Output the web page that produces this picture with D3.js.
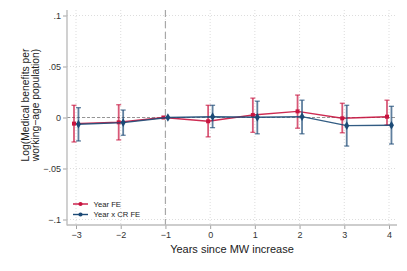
<!DOCTYPE html>
<html><head><meta charset="utf-8">
<script src="https://cdn.jsdelivr.net/npm/d3@7"></script>
<style>body{margin:0;background:#fff}svg{display:block;font-family:"Liberation Sans",Arial,sans-serif}</style>
</head><body><svg id="c" width="407" height="271"></svg>
<script>
const years = [-3,-2,-1,0,1,2,3,4];
const yearFE      = [-0.006,-0.0047,0,-0.0037,0.0024,0.006,-0.0008,0.0008];
const yearFE_lo   = [-0.024,-0.022,null,-0.019,-0.0145,-0.0105,-0.015,-0.0073];
const yearFE_hi   = [0.012,0.0125,null,0.012,0.019,0.022,0.014,0.017];
const yearCR      = [-0.0066,-0.005,0,0.0008,0.0002,0.0008,-0.008,-0.0076];
const yearCR_lo   = [-0.023,-0.0174,null,-0.010,-0.016,-0.016,-0.028,-0.026];
const yearCR_hi   = [0.0096,0.0073,null,0.012,0.016,0.017,0.012,0.011];
const yTicks = [-0.1,-0.05,0,0.05,0.1];
const yTickLabels = ["\u2212.1","\u2212.05","0",".05",".1"];
const xTicks = years;
const seriesNames = ["Year FE","Year x CR FE"];
const colors = ["#c8143f","#1c4a76"];

const svg = d3.select("#c");
const L=67, R=397, T=10, B=225;
const x = d3.scaleLinear().domain([-3,4]).range([76,389]);
const y = d3.scaleLinear().domain([-0.1,0.1]).range([219.5,15.5]);

// gridlines
const g = svg.append("g");
g.selectAll(".hg").data(yTicks).join("line")
  .attr("x1",L).attr("x2",R).attr("y1",d=>y(d)).attr("y2",d=>y(d))
  .attr("stroke","#d4d4d4").attr("stroke-width",0.8).attr("stroke-dasharray","1,2");
g.selectAll(".vg").data(xTicks).join("line")
  .attr("y1",T).attr("y2",B).attr("x1",d=>x(d)).attr("x2",d=>x(d))
  .attr("stroke","#d4d4d4").attr("stroke-width",0.8).attr("stroke-dasharray","1,2");

// reference lines
svg.append("line").attr("x1",L).attr("x2",R).attr("y1",y(0)).attr("y2",y(0))
  .attr("stroke","#8a8a8a").attr("stroke-width",0.9).attr("stroke-dasharray","3,2");
svg.append("line").attr("x1",x(-1)).attr("x2",x(-1)).attr("y1",T).attr("y2",B)
  .attr("stroke","#a8a8a8").attr("stroke-width",1.2).attr("stroke-dasharray","7,4");

// axes
const yAxis = d3.axisLeft(y).tickValues(yTicks).tickFormat((d,i)=>yTickLabels[i]).tickSize(4).tickPadding(2);
const ya = svg.append("g").attr("transform",`translate(${L},0)`).call(yAxis);
const xAxis = d3.axisBottom(x).tickValues(xTicks).tickFormat(d=>d<0?"\u2212"+(-d):String(d)).tickSize(4).tickPadding(3);
const xa = svg.append("g").attr("transform",`translate(0,${B})`).call(xAxis);
[ya,xa].forEach(a=>{
  a.select(".domain").remove();
  a.selectAll(".tick line").attr("stroke","#999").attr("stroke-width",0.9);
  a.selectAll("text").attr("fill","#333").style("font-size","9px").style("font-family","Liberation Sans, Arial, sans-serif");
});
svg.append("line").attr("x1",L).attr("x2",L).attr("y1",T).attr("y2",B+0.5).attr("stroke","#bdbdbd").attr("stroke-width",1.4);
svg.append("line").attr("x1",L).attr("x2",R).attr("y1",B).attr("y2",B).attr("stroke","#bdbdbd").attr("stroke-width",1.4);

// titles
svg.append("text").attr("x",(L+R)/2).attr("y",253).attr("text-anchor","middle")
  .style("font-size","11px").attr("fill","#222").text("Years since MW increase");
const yt = svg.append("text").attr("transform","translate(0,105) rotate(-90)")
  .attr("text-anchor","middle").style("font-size","10.3px").attr("fill","#222");
yt.append("tspan").attr("x",0).attr("y",29).text("Log(Medical benefits per");
yt.append("tspan").attr("x",0).attr("y",39).text("working\u2212age population)");

// series
const series = [
  {name:seriesNames[0], v:yearFE, lo:yearFE_lo, hi:yearFE_hi, off:-0.045, color:colors[0], sym:d3.symbolSquare, size:16},
  {name:seriesNames[1], v:yearCR, lo:yearCR_lo, hi:yearCR_hi, off:0.055, color:colors[1], sym:d3.symbolDiamond, size:22}
];
series.forEach(s=>{
  const pts = years.map((yr,i)=>({x:yr+s.off, v:s.v[i], lo:s.lo[i], hi:s.hi[i]}));
  const sg = svg.append("g");
  const ci = pts.filter(p=>p.lo!==null);
  sg.selectAll(".bar").data(ci).join("line")
    .attr("x1",p=>x(p.x)).attr("x2",p=>x(p.x)).attr("y1",p=>y(p.lo)).attr("y2",p=>y(p.hi))
    .attr("stroke",s.color).attr("stroke-width",1.8).attr("opacity",0.7);
  ["lo","hi"].forEach(k=>{
    sg.selectAll(".cap"+k).data(ci).join("line")
      .attr("x1",p=>x(p.x)-2.5).attr("x2",p=>x(p.x)+2.5).attr("y1",p=>y(p[k])).attr("y2",p=>y(p[k]))
      .attr("stroke",s.color).attr("stroke-width",1.2).attr("opacity",0.75);
  });
  sg.append("path").datum(pts).attr("fill","none").attr("stroke",s.color).attr("stroke-width",1.4).attr("opacity",0.9)
    .attr("d",d3.line().x(p=>x(p.x)).y(p=>y(p.v)));
  sg.selectAll(".pt").data(pts).join("path")
    .attr("transform",p=>`translate(${x(p.x)},${y(p.v)})`)
    .attr("d",d3.symbol().type(s.sym).size(s.size)).attr("fill",s.color);
});

// legend
const lg = svg.append("g");
series.forEach((s,i)=>{
  const ly = 204 + i*10.5;
  lg.append("line").attr("x1",73).attr("x2",88).attr("y1",ly).attr("y2",ly).attr("stroke",s.color).attr("stroke-width",1.4);
  lg.append("path").attr("transform",`translate(80.5,${ly})`).attr("d",d3.symbol().type(d3.symbolCircle).size(14)).attr("fill",s.color);
  lg.append("text").attr("x",93.5).attr("y",ly+2.8).style("font-size","7.7px").attr("fill","#222").text(s.name);
});
</script></body></html>
